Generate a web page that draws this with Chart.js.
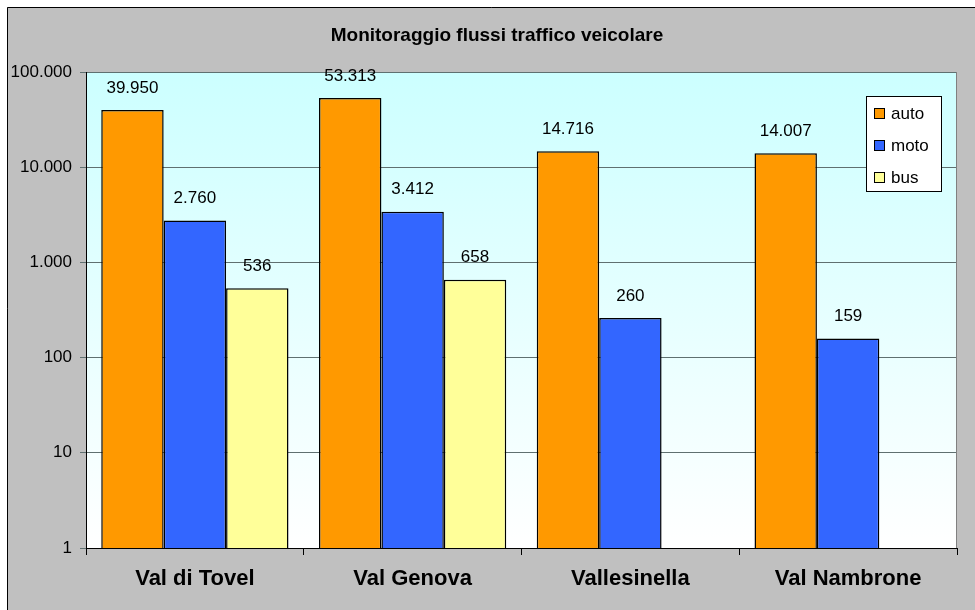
<!DOCTYPE html>
<html>
<head>
<meta charset="utf-8">
<title>Monitoraggio flussi traffico veicolare</title>
<script src="https://cdn.jsdelivr.net/npm/chart.js@4.4.1/dist/chart.umd.min.js"></script>
<style>
  html, body { margin: 0; padding: 0; background: #fff; }
  #wrap { width: 975px; height: 610px; }
</style>
</head>
<body>
<div id="wrap"><canvas id="chart" width="975" height="610"></canvas></div>
<script>
const chartTitle = 'Monitoraggio flussi traffico veicolare';
const valleys = ['Val di Tovel', 'Val Genova', 'Vallesinella', 'Val Nambrone'];
const seriesNames = ['auto', 'moto', 'bus'];
const autoValues = [39950, 53313, 14716, 14007];
const motoValues = [2760, 3412, 260, 159];
const busValues = [536, 658, null, null];
const yTicks = [1, 10, 100, 1000, 10000, 100000];

const FONT = '"Liberation Sans", Arial, sans-serif';

// italian thousands separator
function fmt(v) {
  return String(v).replace(/\B(?=(\d{3})+(?!\d))/g, '.');
}

// grey frame, plot gradient and title
const frame = {
  id: 'frame',
  beforeDraw(chart) {
    const ctx = chart.ctx, a = chart.chartArea;
    ctx.save();
    ctx.fillStyle = '#fff';
    ctx.fillRect(0, 0, chart.width, chart.height);
    ctx.fillStyle = '#c0c0c0';
    ctx.fillRect(7, 7, chart.width - 7, chart.height - 7);
    ctx.strokeStyle = '#000';
    ctx.lineWidth = 1;
    ctx.beginPath();
    ctx.moveTo(7.5, chart.height);
    ctx.lineTo(7.5, 7.5);
    ctx.lineTo(chart.width, 7.5);
    ctx.stroke();

    let g = ctx.createLinearGradient(0, a.top, 0, a.bottom);
    g.addColorStop(0, '#ccffff');
    g.addColorStop(1, '#ffffff');
    ctx.fillStyle = g;
    ctx.fillRect(a.left, a.top, a.right - a.left, a.bottom - a.top);

    ctx.fillStyle = '#000';
    ctx.font = 'bold 19px ' + FONT;
    ctx.textAlign = 'center';
    ctx.textBaseline = 'middle';
    ctx.fillText(chartTitle, 497, 36);
    ctx.restore();
  }
};

// numbers above the bars
const valueLabels = {
  id: 'valueLabels',
  afterDatasetsDraw(chart) {
    const ctx = chart.ctx;
    ctx.save();
    ctx.font = '17px ' + FONT;
    ctx.fillStyle = '#000';
    ctx.textAlign = 'center';
    ctx.textBaseline = 'middle';
    chart.data.datasets.forEach((ds, i) => {
      chart.getDatasetMeta(i).data.forEach((bar, j) => {
        const v = ds.data[j];
        if (v == null) return;
        ctx.fillText(fmt(v), bar.x, bar.y - 22);
      });
    });
    ctx.restore();
  }
};

// boxed legend inside the plot + right border of plot
const boxLegend = {
  id: 'boxLegend',
  afterDraw(chart) {
    const ctx = chart.ctx, a = chart.chartArea;
    ctx.save();
    ctx.strokeStyle = '#808080';
    ctx.lineWidth = 1;
    ctx.beginPath();
    ctx.moveTo(a.right - 0.5, a.top);
    ctx.lineTo(a.right - 0.5, a.bottom);
    ctx.stroke();

    let bx = 866, by = 96, bw = 76, bh = 96;
    ctx.fillStyle = '#fff';
    ctx.fillRect(bx, by, bw, bh);
    ctx.strokeStyle = '#000';
    ctx.strokeRect(bx + 0.5, by + 0.5, bw - 1, bh - 1);

    ctx.font = '17px ' + FONT;
    ctx.textAlign = 'left';
    ctx.textBaseline = 'middle';
    chart.data.datasets.forEach((ds, i) => {
      let cy = 113 + i * 32;
      ctx.fillStyle = ds.backgroundColor;
      ctx.fillRect(874, cy - 5, 11, 11);
      ctx.strokeStyle = '#000';
      ctx.strokeRect(874.5, cy - 4.5, 10, 10);
      ctx.fillStyle = '#000';
      ctx.fillText(ds.label, 891, cy + 1);
    });
    ctx.restore();
  }
};

function barSet(label, data, color) {
  return {
    label: label,
    data: data,
    backgroundColor: color,
    borderColor: '#000',
    borderWidth: 1.5,
    borderSkipped: 'start',
    categoryPercentage: 0.86,
    barPercentage: 1.0
  };
}

const ctx = document.getElementById('chart');
const myChart = new Chart(ctx, {
  type: 'bar',
  data: {
    labels: valleys,
    datasets: [
      barSet(seriesNames[0], autoValues, '#ff9900'),
      barSet(seriesNames[1], motoValues, '#3366ff'),
      barSet(seriesNames[2], busValues, '#ffff99')
    ]
  },
  options: {
    responsive: false,
    animation: false,
    layout: { padding: { left: 0, top: 72, right: 18, bottom: 0 } },
    plugins: {
      legend: { display: false },
      title: { display: false },
      tooltip: { enabled: false }
    },
    scales: {
      x: {
        grid: { drawOnChartArea: false, offset: true, tickLength: 7, tickColor: '#000' },
        border: { color: '#000' },
        ticks: { color: '#000', font: { family: FONT, size: 22, weight: 'bold' }, padding: 11 },
        afterFit(s) { s.height = 62; }
      },
      y: {
        type: 'logarithmic',
        min: 1,
        max: 100000,
        afterBuildTicks(s) { s.ticks = yTicks.map(v => ({ value: v })); },
        grid: { color: '#5f7070', tickLength: 6, tickColor: '#5f7070' },
        border: { color: '#000' },
        ticks: {
          color: '#000',
          font: { family: FONT, size: 17 },
          padding: 8,
          autoSkip: false,
          callback: v => fmt(v)
        },
        afterFit(s) { s.width = 86; }
      }
    }
  },
  plugins: [frame, valueLabels, boxLegend]
});
</script>
</body>
</html>
